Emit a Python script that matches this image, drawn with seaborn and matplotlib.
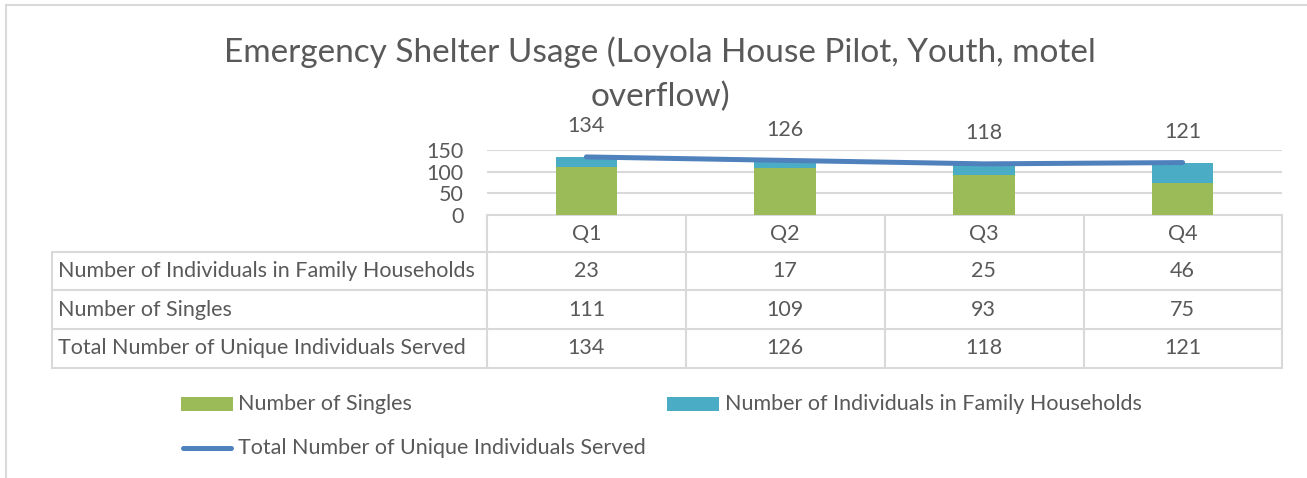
import numpy as np
import matplotlib
matplotlib.use('Agg')
import matplotlib.pyplot as plt
import matplotlib.transforms as mtransforms
from matplotlib.patches import Rectangle
import seaborn as sns

# data
quarters = ['Q1', 'Q2', 'Q3', 'Q4']
family = [23, 17, 25, 46]
singles = [111, 109, 93, 75]
total_served = [134, 126, 118, 121]
row_labels = ['Number of Individuals in Family Households',
              'Number of Singles',
              'Total Number of Unique Individuals Served']
yticks = [0, 50, 100, 150]

GREEN = '#9bbb59'
TEAL = '#4bacc6'
BLUE = '#4f81bd'
GRID = '#d9d9d9'
TXT = '#595959'
FS = 15.5

sns.set_style('white')
plt.rcParams['font.family'] = ['Lato', 'DejaVu Sans']

W, H = 1307, 478
fig = plt.figure(figsize=(W / 100, H / 100), dpi=100)

# overlay in pixel coordinates for frame, table and legend
ov = fig.add_axes([0, 0, 1, 1])
ov.set_xlim(0, W)
ov.set_ylim(H, 0)
ov.axis('off')

# plot area
x0, x1, ytop, ybot = 487, 1282, 150, 215
ax = fig.add_axes([x0 / W, (H - ybot) / H, (x1 - x0) / W, (ybot - ytop) / H])

stack_top = [s + f for s, f in zip(singles, family)]
sns.barplot(x=quarters, y=stack_top, color=TEAL, saturation=1, width=0.31,
            linewidth=0, ax=ax, zorder=2)
sns.barplot(x=quarters, y=singles, color=GREEN, saturation=1, width=0.31,
            linewidth=0, ax=ax, zorder=3)
sns.lineplot(x=np.arange(len(quarters)), y=total_served, color=BLUE, lw=3.6,
             ax=ax, zorder=4, solid_capstyle='round')
for i, v in enumerate(total_served):
    ax.annotate(str(v), (i, v), xytext=(0, 22), textcoords='offset points',
                ha='center', va='center', fontsize=FS, color=TXT,
                annotation_clip=False)

ax.set_xlim(-0.5, len(quarters) - 0.5)
ax.set_ylim(0, 150)
ax.set_yticks(yticks)
ax.set_yticklabels([str(t) for t in yticks], fontsize=FS, color=TXT)
ax.set_xticks([])
ax.set_xlabel('')
ax.set_ylabel('')
ax.tick_params(axis='y', length=0, pad=17)
for t in yticks[1:]:
    ax.axhline(t, color=GRID, lw=1.5, zorder=1)
for sp in ax.spines.values():
    sp.set_visible(False)
ax.patch.set_alpha(0)

# outer frame
ov.plot([6, W], [5, 5], color=GRID, lw=1.5)
ov.plot([6, 6], [5, H], color=GRID, lw=1.5)

# title
ov.text(660, 52, 'Emergency Shelter Usage (Loyola House Pilot, Youth, motel',
        ha='center', va='center', fontsize=24, color=TXT)
ov.text(660, 97, 'overflow)', ha='center', va='center', fontsize=24,
        color=TXT)

# data table
col_edges = [487, 686, 885, 1084, 1282]
row_edges = [215, 252, 290, 329, 368]
lab_x = 52
ov.plot([col_edges[0], col_edges[-1]], [row_edges[0]] * 2, color=GRID, lw=1.5)
for y in row_edges[1:]:
    ov.plot([lab_x, col_edges[-1]], [y, y], color=GRID, lw=1.5)
for x in col_edges:
    ov.plot([x, x], [row_edges[0], row_edges[-1]], color=GRID, lw=1.5)
ov.plot([lab_x, lab_x], [row_edges[1], row_edges[-1]], color=GRID, lw=1.5)

tr = mtransforms.blended_transform_factory(ax.transData, ov.transData)
ycent = [(a + b) / 2 for a, b in zip(row_edges[:-1], row_edges[1:])]
for i, q in enumerate(quarters):
    ax_txt = dict(ha='center', va='center', fontsize=FS, color=TXT,
                  transform=tr)
    ov.text(i, ycent[0], q, **ax_txt)
    for r, vals in enumerate([family, singles, total_served]):
        ov.text(i, ycent[r + 1], str(vals[i]), **ax_txt)
for r, lab in enumerate(row_labels):
    ov.text(58, ycent[r + 1], lab, ha='left', va='center', fontsize=FS,
            color=TXT)

# legend
ov.add_patch(Rectangle((181, 397), 52, 14, color=GREEN, lw=0))
ov.text(238, 404, 'Number of Singles', ha='left', va='center', fontsize=FS,
        color=TXT)
ov.add_patch(Rectangle((667, 397), 52, 14, color=TEAL, lw=0))
ov.text(725, 404, 'Number of Individuals in Family Households', ha='left',
        va='center', fontsize=FS, color=TXT)
ov.plot([183, 231], [448, 448], color=BLUE, lw=3.6, solid_capstyle='round')
ov.text(238, 448, 'Total Number of Unique Individuals Served', ha='left',
        va='center', fontsize=FS, color=TXT)

fig.savefig('out.png', dpi=100)
